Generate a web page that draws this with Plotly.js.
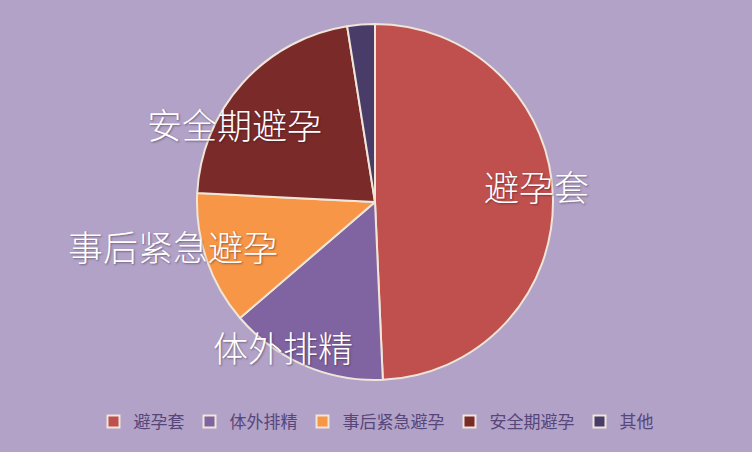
<!DOCTYPE html>
<html>
<head>
<meta charset="utf-8">
<script src="https://cdn.plot.ly/plotly-3.0.1.min.js"></script>
<style>
  html, body { margin: 0; padding: 0; background: #b2a2c8; }
  #chart { width: 752px; height: 452px; }
</style>
</head>
<body>
<div id="chart"></div>
<script>
// slice data, clockwise from 12 o'clock
const labels = ['避孕套', '体外排精', '事后紧急避孕', '安全期避孕', '其他'];
const values = [49.3, 14.4, 12.1, 21.7, 2.5];
const colors = ['#c0504d', '#8064a2', '#f79646', '#7a2a29', '#4a3c68'];

// label placement, px offsets from pie centre (empty = no label)
const labelOffsets = [[161, -17], [-92, 144], [-202, 44], [-141, -78], null];

const W = 752, H = 452;
const CX = 375, CY = 202, R = 178;

const annotations = [];
labels.forEach((lab, i) => {
    const off = labelOffsets[i];
    if (!off) return;
    annotations.push({
        text: lab,
        xref: 'paper', yref: 'paper',
        x: (CX + off[0]) / W, y: 1 - (CY + off[1]) / H,
        xanchor: 'center', yanchor: 'middle',
        showarrow: false,
        font: {
            family: '"Noto Sans CJK SC", "Noto Sans", sans-serif',
            size: 35, color: '#ffffff', weight: 300,
            shadow: '1px 1px 2px rgba(40,20,40,0.45)'
        }
    });
});

const trace = {
    type: 'pie',
    labels: labels,
    values: values,
    sort: false,
    direction: 'clockwise',
    rotation: 0,
    textinfo: 'none',
    hoverinfo: 'label+percent',
    marker: { colors: colors, line: { color: '#efe5d8', width: 2 } },
    domain: {
        x: [(CX - R) / W, (CX + R) / W],
        y: [1 - (CY + R) / H, 1 - (CY - R) / H]
    }
};

const layout = {
    width: W, height: H,
    margin: { l: 0, r: 0, t: 0, b: 0 },
    paper_bgcolor: '#b2a2c8',
    showlegend: true,
    legend: {
        orientation: 'h',
        x: 0.5, xanchor: 'center',
        y: 1 - 422 / H, yanchor: 'middle',
        font: { family: '"Noto Sans CJK SC", sans-serif', size: 17, color: '#57467a' },
        itemwidth: 30,
        bgcolor: 'rgba(0,0,0,0)'
    },
    annotations: annotations
};

Plotly.newPlot('chart', [trace], layout, { displayModeBar: false, staticPlot: true });
</script>
</body>
</html>
